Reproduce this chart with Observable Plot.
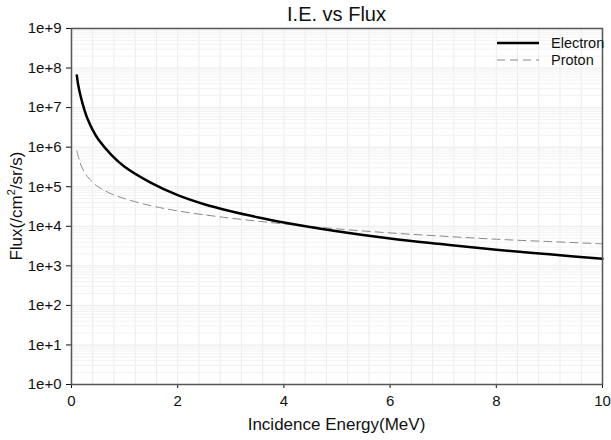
<!DOCTYPE html>
<html>
<head>
<meta charset="utf-8">
<script src="https://cdn.jsdelivr.net/npm/d3@7"></script>
<script src="https://cdn.jsdelivr.net/npm/@observablehq/plot@0.6"></script>
<style>
  body { margin: 0; background: #fff; font-family: "Liberation Sans", Arial, sans-serif; }
  #wrap { position: relative; width: 611px; height: 440px; }
  #title { position: absolute; left: 71px; width: 531px; top: 3px; text-align: center; font-size: 20px; color: #111; }
  #xlabel { position: absolute; left: 71px; width: 531px; top: 415px; text-align: center; font-size: 17px; color: #111; }
  #ylabel { position: absolute; left: 16px; top: 206px; transform: translate(-50%, -50%) rotate(-90deg); white-space: nowrap; font-size: 17px; color: #111; }
  #ylabel sup { font-size: 11px; }
  #legend { position: absolute; left: 0; top: 0; pointer-events: none; }
</style>
</head>
<body>
<div id="wrap">
  <div id="chart"></div>
  <div id="title">I.E. vs Flux</div>
  <div id="xlabel">Incidence Energy(MeV)</div>
  <div id="ylabel">Flux(/cm<sup>2</sup>/sr/s)</div>
  <svg id="legend" width="611" height="440" font-family="Liberation Sans, Arial, sans-serif" font-size="14.5">
    <line x1="497" x2="539" y1="43" y2="43" stroke="#000" stroke-width="2.5"/>
    <text x="551" y="48" fill="#111">Electron</text>
    <line x1="497" x2="539" y1="60" y2="60" stroke="#888" stroke-width="1" stroke-dasharray="8,5"/>
    <text x="551" y="65" fill="#111">Proton</text>
  </svg>
</div>
<script>
// Incidence energy (MeV) and flux (/cm^2/sr/s)
const electronEnergy = [0.1, 0.12, 0.15, 0.2, 0.25, 0.3, 0.4, 0.5, 0.75, 1, 1.5, 2, 2.5, 3, 3.5, 4, 5, 6, 7, 8, 9, 10];
const electronFlux   = [6.5e7, 4.2e7, 2.6e7, 1.4e7, 8.2e6, 5.3e6, 2.7e6, 1.6e6, 6.4e5, 3.2e5, 1.25e5, 6.1e4, 3.6e4, 2.4e4, 1.7e4, 1.25e4, 7.5e3, 4.9e3, 3.5e3, 2.55e3, 1.95e3, 1.5e3];

const protonEnergy = [0.1, 0.15, 0.2, 0.3, 0.4, 0.5, 0.75, 1, 1.5, 2, 2.5, 3, 3.5, 4, 5, 6, 7, 8, 9, 10];
const protonFlux   = [8e5, 4.6e5, 3e5, 1.8e5, 1.3e5, 1.0e5, 6.6e4, 5e4, 3.3e4, 2.45e4, 1.95e4, 1.6e4, 1.35e4, 1.15e4, 8.6e3, 6.8e3, 5.6e3, 4.7e3, 4.1e3, 3.6e3];

const xTicks = [0, 2, 4, 6, 8, 10];
const yTicks = [1, 1e1, 1e2, 1e3, 1e4, 1e5, 1e6, 1e7, 1e8, 1e9];

const electron = electronEnergy.map((e, i) => ({energy: e, flux: electronFlux[i]}));
const proton = protonEnergy.map((e, i) => ({energy: e, flux: protonFlux[i]}));

const xGrid = d3.range(0, 10.001, 0.4);
const yMinor = [];
for (let p = 0; p < 9; p++) for (let k = 2; k <= 9; k++) yMinor.push(k * Math.pow(10, p));

const chart = Plot.plot({
  width: 611,
  height: 440,
  marginTop: 28,
  marginBottom: 56,
  marginLeft: 71,
  marginRight: 9,
  style: {fontFamily: "Liberation Sans, Arial, sans-serif", fontSize: "15px", color: "#111", background: "#fff"},
  x: {domain: [0, 10], ticks: xTicks, tickSize: 4, tickPadding: 7, label: null, tickFormat: d => String(d)},
  y: {type: "log", domain: [1, 1e9], ticks: yTicks, tickSize: 5, tickPadding: 5, label: null,
      tickFormat: d => "1e+" + Math.round(Math.log10(d))},
  marks: [
    Plot.ruleX(xGrid, {stroke: "#ebebeb", strokeWidth: 1}),
    Plot.ruleY(yMinor, {stroke: "#f2f2f2", strokeWidth: 1}),
    Plot.ruleY(yTicks, {stroke: "#ebebeb", strokeWidth: 1}),
    Plot.line(proton, {x: "energy", y: "flux", stroke: "#888", strokeWidth: 1, strokeDasharray: "8,5", curve: "catmull-rom"}),
    Plot.line(electron, {x: "energy", y: "flux", stroke: "#000", strokeWidth: 2.5, curve: "catmull-rom"}),
    Plot.frame({stroke: "#555", strokeWidth: 1.5})
  ]
});
document.getElementById("chart").appendChild(chart);
</script>
</body>
</html>
